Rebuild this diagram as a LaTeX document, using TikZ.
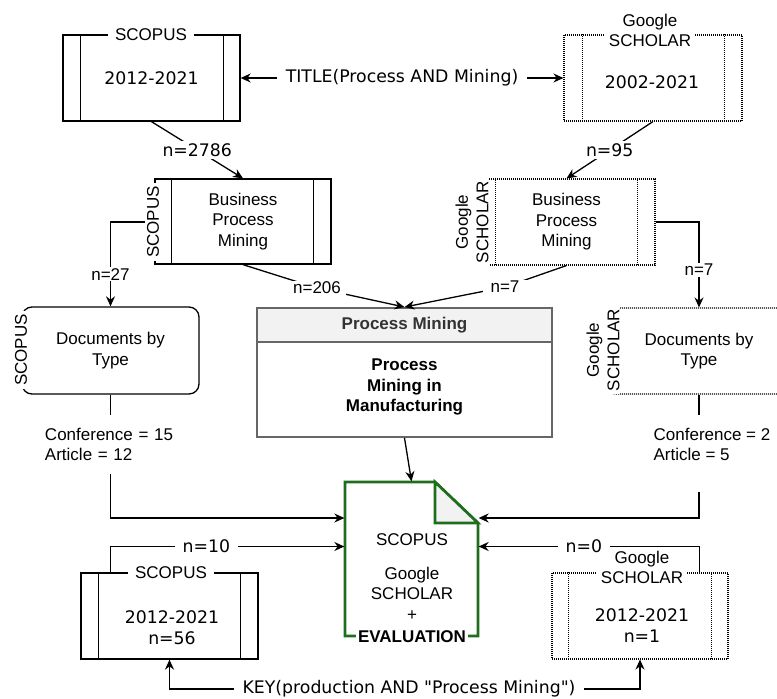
\documentclass[tikz,border=0pt]{standalone}
\usepackage{fontspec}
\setmainfont{Liberation Sans}
\newfontfamily\myverdana{DejaVu Sans}
\usetikzlibrary{arrows.meta}
\definecolor{evgreen}{RGB}{30,110,30}
\definecolor{pmgray}{RGB}{102,102,102}
\definecolor{pmfill}{RGB}{242,242,242}
\definecolor{pmtext}{RGB}{51,51,51}
\newcommand{\myaf}{\fontsize{17}{20.5}\selectfont}
\newcommand{\myvf}{\myverdana\fontsize{17.3}{21}\selectfont}
\begin{document}
\begin{tikzpicture}[x=1pt,y=-1pt, line width=1.3pt,
  arr/.style={-{Stealth[length=10pt,width=9pt]}},
  lbl/.style={fill=white, inner xsep=5pt, inner ysep=1pt, font=\myaf},
  vlbl/.style={fill=white, inner xsep=8pt, inner ysep=2pt, font=\myvf},
  procbox/.style={draw, minimum width=177pt, minimum height=86pt, inner sep=0pt},
  dotbox/.style={dash pattern=on 1pt off 1pt, line width=1.1pt},
  doc/.style={draw, rounded corners=10pt, minimum height=87pt, align=center, font=\myaf}]
\useasboundingbox (0,0) rectangle (777,699);

% ---------- top boxes
\node[procbox, font=\myvf] (s1) at (151.5,78) {2012-2021};
\draw ([xshift=18pt]s1.north west) -- ([xshift=18pt]s1.south west);
\draw ([xshift=-17pt]s1.north east) -- ([xshift=-17pt]s1.south east);
\node[lbl, inner xsep=7pt] (s1l) at (151,35) {SCOPUS};

\node[procbox, dotbox, minimum width=178pt] (g1) at (653,78) {};
\draw[dotbox] ([xshift=19pt]g1.north west) -- ([xshift=19pt]g1.south west);
\draw[dotbox] ([xshift=-18pt]g1.north east) -- ([xshift=-18pt]g1.south east);
\node[font=\myvf] (g1t) at (652,82) {2002-2021};
\node[lbl, align=center, inner xsep=4pt, inner ysep=0pt] (g1l) at (650,30.5) {Google\\SCHOLAR};

% ---------- business process mining boxes
\node[procbox, minimum width=176pt, minimum height=85pt, align=center, font=\myaf] (sbpm) at (243,221.5) {Business\\Process\\Mining};
\draw ([xshift=17pt]sbpm.north west) -- ([xshift=17pt]sbpm.south west);
\draw ([xshift=-18pt]sbpm.north east) -- ([xshift=-18pt]sbpm.south east);
\node[lbl, rotate=90, inner xsep=3pt] (sbpml) at (153,222) {SCOPUS};

\node[procbox, dotbox, align=center, font=\myaf] (gbpm) at (566.5,222) {Business\\Process\\Mining};
\draw[dotbox] ([xshift=18pt]gbpm.north west) -- ([xshift=18pt]gbpm.south west);
\draw[dotbox] ([xshift=-18pt]gbpm.north east) -- ([xshift=-18pt]gbpm.south east);
\node[lbl, rotate=90, align=center, inner xsep=3pt] (gbpml) at (472,222) {Google\\SCHOLAR};

% ---------- documents by type
\node[doc, minimum width=177pt] (sdoc) at (110.5,350.5) {Documents by\\Type};
\node[lbl, rotate=90, inner xsep=3pt] (sdocl) at (21,350) {SCOPUS};
\node[doc, dotbox, minimum width=188pt, minimum height=86pt] (gdoc) at (699,351) {Documents by\\Type};
\node[lbl, rotate=90, align=center, inner xsep=3pt] (gdocl) at (603,350) {Google\\SCHOLAR};

% ---------- process mining
\node[draw=pmgray, line width=1.9pt, minimum width=295pt, minimum height=129pt] (pm) at (404.5,372.5) {};
\node[draw=pmgray, fill=pmfill, line width=1.9pt, minimum width=295pt, minimum height=34pt, anchor=north, text=pmtext, font=\myaf\bfseries] (pmh) at (pm.north) {Process Mining};
\node[align=center, font=\myaf\bfseries] (pmt) at (404.5,387) {Process\\Mining in\\Manufacturing};

% ---------- evaluation document
\node[minimum width=133pt, minimum height=154pt, inner sep=0pt] (ev) at (411.5,559) {};
\draw[evgreen, line width=2.7pt, line join=miter] (345,482) -- (435,482) -- (478,523) -- (478,636) -- (345,636) -- cycle;
\draw[evgreen, fill=pmfill, line width=2.7pt, line join=miter] (435,482) -- (435,523) -- (478,523) -- cycle;
\node[font=\myaf] (evs) at (412,540) {SCOPUS};
\node[font=\myaf, align=center] (evg) at (412,593.5) {Google\\SCHOLAR\\+};
\node[fill=white, inner xsep=2pt, inner ysep=0pt, font=\myaf\bfseries] (eve) at (412,637) {EVALUATION};

% ---------- bottom boxes
\node[procbox] (s2) at (169.5,616) {};
\draw ([xshift=18pt]s2.north west) -- ([xshift=18pt]s2.south west);
\draw ([xshift=-18pt]s2.north east) -- ([xshift=-18pt]s2.south east);
\node[lbl, inner xsep=7pt] (s2l) at (171,573) {SCOPUS};
\node[font=\myvf, align=center] (s2t) at (172,627.5) {2012-2021\\n=56};

\node[procbox, dotbox, minimum width=176pt] (g2) at (640,616) {};
\draw[dotbox] ([xshift=17pt]g2.north west) -- ([xshift=17pt]g2.south west);
\draw[dotbox] ([xshift=-17pt]g2.north east) -- ([xshift=-17pt]g2.south east);
\node[lbl, align=center, inner xsep=4pt, inner ysep=0pt] (g2l) at (642,567.5) {Google\\SCHOLAR};
\node[font=\myvf, align=center] (g2t) at (642,625.5) {2012-2021\\n=1};

% ---------- query labels
\node[vlbl] (title) at (402,78) {TITLE(Process AND Mining)};
\node[vlbl] (key) at (409,689) {KEY(production AND "Process Mining")};

% ---------- connectors
\coordinate (yA) at (0,518);
\coordinate (yB) at (0,546.5);
\coordinate (c206) at (317,288);
\coordinate (c7) at (505,287);

\draw[arr] (title.west) -- (s1.east);
\draw[arr] (title.east) -- (g1.west);
\draw[arr] (s1.south) -- node[vlbl, inner xsep=5pt] (n2786) {n=2786} (sbpm.north);
\draw[arr] (g1.south) -- node[vlbl, inner xsep=5pt] (n95) {n=95} (gbpm.north);
\draw[arr] (sbpml.north) -| node[lbl, pos=0.81, inner xsep=3pt] (n27) {n=27} (sdoc.north);
\draw[arr] (gbpm.east) -| node[lbl, pos=0.78, inner xsep=3pt] (n7r) {n=7} (gdoc.north);
\draw (sbpm.south) -- (c206);
\draw[arr] (c206) -- (pm.north);
\node[lbl] (n206) at (c206) {n=206};
\draw (gbpm.south) -- (c7);
\draw[arr] (c7) -- (pm.north);
\node[lbl, inner xsep=8pt] (n7l) at (c7) {n=7};
\draw[arr] (pm.south) -- (ev.north);

\draw[arr] (sdoc.south) |- (ev.west |- yA);
\node[lbl, align=left, inner xsep=8pt, text width=131pt, minimum height=59pt] (sconf) at (110.5,444.5) {Conference = 15\\Article = 12};
\draw[arr] (gdoc.south) |- (ev.east |- yA);
\node[fill=white, minimum width=140pt, minimum height=77pt] (gconfbg) at (710,453.5) {};
\node[font=\myaf, align=left, anchor=west, inner sep=0pt] (gconf) at (653,444.5) {Conference = 2\\Article = 5};

\draw[arr] ([xshift=30pt]s2.north west) |- node[vlbl, pos=0.705] (n10) {n=10} (ev.west |- yB);
\draw[arr] ([xshift=-29pt]g2.north east) |- node[vlbl, pos=0.762] (n0) {n=0} (ev.east |- yB);

\draw[arr] (key.west) -| (s2.south);
\draw[arr] (key.east) -| (g2.south);
\end{tikzpicture}
\end{document}
